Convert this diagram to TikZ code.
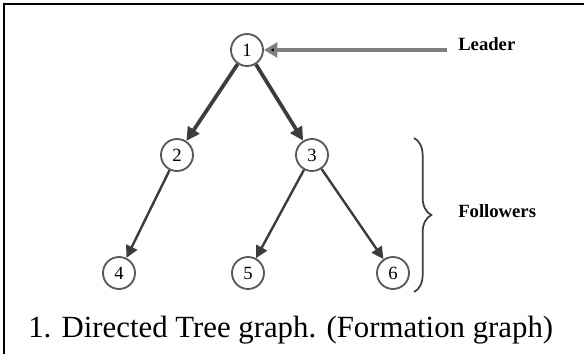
\documentclass[tikz,border=0pt]{standalone}
\usepackage{fontspec}
\setmainfont{Liberation Serif}
\usetikzlibrary{arrows.meta,decorations.pathreplacing}
\definecolor{edgegray}{RGB}{60,60,60}
\definecolor{ringgray}{RGB}{90,90,90}
\tikzset{
  x=0.75pt, y=-0.75pt,
  vertex/.style={circle, draw=ringgray, line width=1.4pt, fill=white,
    minimum size=24pt, inner sep=0pt, font=\fontsize{14}{14}\selectfont},
  strong/.style={draw=edgegray, line width=2.8pt, -{Triangle[length=10pt,width=10pt]}},
  weak/.style={draw=edgegray, line width=1.8pt, -{Triangle[length=9pt,width=9pt]}},
  tag/.style={font=\bfseries\fontsize{14}{14}\selectfont, anchor=west, inner sep=0pt}
}
\begin{document}
\begin{tikzpicture}
  \useasboundingbox (0,0) rectangle (584,354);
  % frame: top and left rules
  \draw[line width=2pt] (4,354) -- (4,4) -- (584,4);

  % tree vertices
  \node[vertex] (n1) at (247,50) {1};
  \node[vertex] (n2) at (177,155) {2};
  \node[vertex] (n3) at (312,155) {3};
  \node[vertex] (n4) at (119,273) {4};
  \node[vertex] (n5) at (248,273) {5};
  \node[vertex] (n6) at (393,273) {6};

  % directed edges
  \draw[strong] (n1) -- (n2);
  \draw[strong] (n1) -- (n3);
  \draw[weak] (n2) -- (n4);
  \draw[weak] (n3) -- (n5);
  \draw[weak] (n3) -- (n6);

  % leader label and pointer
  \node[tag] (leader) at (458,44) {Leader};
  \coordinate (lstart) at (447,50);
  \draw[draw=gray, line width=3pt, -{Triangle[length=10pt,width=11pt,fill=black]}] (lstart) -- (n1);

  % followers brace and label
  \coordinate (btop) at (414,138);
  \coordinate (bbot) at (414,292);
  \draw[draw=edgegray, line width=1.3pt, decorate, decoration={brace, amplitude=13pt}] (btop) -- (bbot);
  \node[tag] (followers) at (458,211) {Followers};

  % caption
  \node[anchor=base west, font=\fontsize{23.1}{24}\selectfont, inner sep=0pt] (caption) at (28,337)
    {1. Directed Tree graph. (Formation graph)};
\end{tikzpicture}
\end{document}
